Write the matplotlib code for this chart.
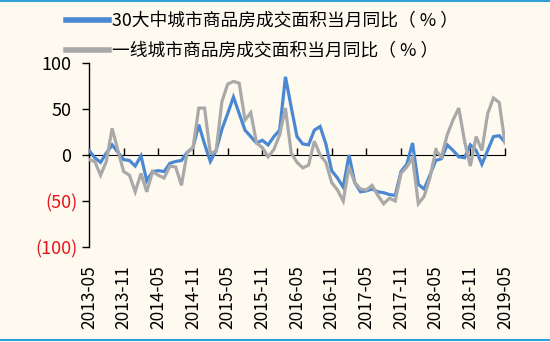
import matplotlib
matplotlib.use("Agg")
import matplotlib.pyplot as plt
from matplotlib.lines import Line2D
from matplotlib.transforms import ScaledTranslation
import pandas as pd

plt.rcParams['font.family'] = ['Noto Sans CJK SC', 'DejaVu Sans']

months = pd.period_range('2013-05', '2019-05', freq='M').strftime('%Y-%m').tolist()

# 30大中城市商品房成交面积当月同比（%）
top30_yoy = [5, -3, -8, 2, 11, 3, -5, -6, -12, -1,
             -28, -18, -17, -18, -9, -7, -6, 3, 8, 33,
             12, -7, 5, 28, 45, 63, 45, 27, 20, 13,
             16, 11, 20, 27, 85, 52, 20, 12, 11, 27,
             31, 12, -17, -25, -35, 0, -30, -40, -39, -37,
             -40, -41, -43, -44, -18, -10, 13, -32, -37, -22,
             -6, -4, 11, 5, -2, -3, 11, 5, -10, 5,
             20, 21, 14]

# 一线城市商品房成交面积当月同比（%）
tier1_yoy = [-5, -7, -22, -7, 29, 5, -18, -22, -40, -20,
             -40, -18, -22, -25, -12, -13, -33, 3, 8, 51,
             51, 2, 4, 58, 77, 80, 78, 38, 46, 13,
             8, -2, 6, 22, 51, 2, -8, -14, -11, 15,
             0, -8, -30, -38, -50, -13, -30, -37, -38, -33,
             -44, -53, -47, -50, -20, -13, -3, -53, -45, -25,
             5, -2, 22, 38, 51, 15, -12, 20, 5, 45,
             62, 57, 13]

series_labels = ['30大中城市商品房成交面积当月同比（ % ）',
                 '一线城市商品房成交面积当月同比（ % ）']
y_ticks = [100, 50, 0, -50, -100]

blue = '#4A88D4'
grey = '#A9A9A9'
bg = '#FEFAEF'

fig = plt.figure(figsize=(5.5, 3.42), dpi=100, facecolor=bg)
ax = fig.add_axes([89 / 550, 1 - 247 / 342, 416 / 550, 184 / 342])
ax.set_facecolor(bg)

x = list(range(len(months)))
l1, = ax.plot(x, top30_yoy, color=blue, lw=2.3, solid_joinstyle='miter', zorder=3)
l2, = ax.plot(x, tier1_yoy, color=grey, lw=2.3, solid_joinstyle='miter', zorder=4)

ax.set_xlim(0, len(months) - 1)
ax.set_ylim(-100, 100)

for s in ['top', 'right', 'bottom']:
    ax.spines[s].set_visible(False)
ax.spines['left'].set_linewidth(1.0)

# y axis
ax.set_yticks(y_ticks)
ax.set_yticklabels([f'{v}' if v >= 0 else f'({-v})' for v in y_ticks])
ax.tick_params(axis='y', direction='out', length=5, width=1.0, labelsize=13, pad=3)
shift = ScaledTranslation(-6.5 / 100, 0, fig.dpi_scale_trans)
for v, lab in zip(y_ticks, ax.get_yticklabels()):
    if v < 0:
        lab.set_color('#E8141B')
    else:
        lab.set_transform(lab.get_transform() + shift)

# x labels at the bottom, tick marks on the zero line
tick_pos = x[::6]
ax.set_xticks(tick_pos)
ax.set_xticklabels([months[i] for i in tick_pos], rotation=90)
ax.tick_params(axis='x', length=0, labelsize=12.5, pad=13)

zero_axis = ax.secondary_xaxis(0.5)
zero_axis.set_xticks(tick_pos)
zero_axis.set_xticklabels([])
zero_axis.tick_params(axis='x', direction='out', length=5, width=1.0)
zero_axis.spines['bottom'].set_linewidth(1.0)

leg = fig.legend([l1, l2], series_labels, loc='upper left',
                 bbox_to_anchor=(66 / 550, 1 - 12 / 342), frameon=False,
                 fontsize=12.8, handlelength=2.4, handletextpad=0.2,
                 labelspacing=0.66, borderpad=0, borderaxespad=0)
for h in leg.legend_handles:
    h.set_linewidth(4)

# thin rules along the top and bottom edges
fig.add_artist(Line2D([0, 1], [1 - 1 / 342, 1 - 1 / 342], color='#2EA0DA', lw=1.5,
                      transform=fig.transFigure))
fig.add_artist(Line2D([0, 1], [2 / 342, 2 / 342], color='#2EA0DA', lw=1.5,
                      transform=fig.transFigure))

fig.savefig('out.png', dpi=100, facecolor=bg)
